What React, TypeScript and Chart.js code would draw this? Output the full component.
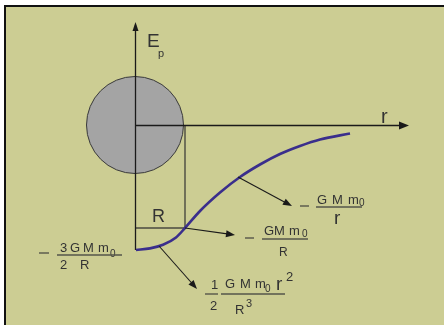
import React, { useEffect, useRef } from "react";
import { Chart, registerables } from "chart.js";
Chart.register(...registerables);

// Distance r in units of R, potential energy in the same drawing units (negative below the r axis)
const rValues = [0.02, 0.3, 0.56, 0.82, 1.0, 1.3, 1.7, 2.1, 2.5, 2.9, 3.3, 3.7, 4.3];
const epValues = [-2.5, -2.468, -2.396, -2.25, -2.06, -1.72, -1.35, -1.04, -0.79, -0.58, -0.42, -0.29, -0.17];

const X_MIN = -2.7;
const X_MAX = 6.18;
const Y_MIN = -4.0;
const Y_MAX = 2.5;

const BG = "#cccd93";
const CURVE = "#3a2e8c";
const INK = "#333333";

const diagramPlugin = {
  id: "diagram",
  beforeDatasetsDraw(chart: any) {
    const ctx = chart.ctx;
    const xs = chart.scales.x;
    const ys = chart.scales.y;
    const X = (v: number) => xs.getPixelForValue(v);
    const Y = (v: number) => ys.getPixelForValue(v);
    ctx.save();
    // frame + background
    ctx.fillStyle = "#ffffff";
    ctx.fillRect(0, 0, chart.width, chart.height);
    ctx.fillStyle = BG;
    ctx.fillRect(X(-2.6), Y(2.38), chart.width, chart.height);
    ctx.fillStyle = "#111111";
    ctx.fillRect(X(-2.6) - 1, Y(2.38) - 1, chart.width, 2);
    ctx.fillRect(X(-2.6) - 1, Y(2.38) - 1, 2, chart.height);

    // sphere
    ctx.beginPath();
    ctx.arc(X(0), Y(0), X(0.97) - X(0), 0, Math.PI * 2);
    ctx.fillStyle = "#a4a4a4";
    ctx.fill();
    ctx.lineWidth = 1;
    ctx.strokeStyle = "#3a3a3a";
    ctx.stroke();

    // R construction lines
    ctx.strokeStyle = "#4a4a40";
    ctx.lineWidth = 1.4;
    ctx.beginPath();
    ctx.moveTo(X(1), Y(0));
    ctx.lineTo(X(1), Y(-2.06));
    ctx.lineTo(X(0), Y(-2.06));
    ctx.stroke();

    // axes
    ctx.strokeStyle = "#1a1a1a";
    ctx.lineWidth = 1.3;
    ctx.beginPath();
    ctx.moveTo(X(0) + 0.5, Y(-2.5));
    ctx.lineTo(X(0) + 0.5, Y(2.0));
    ctx.moveTo(X(0), Y(0) + 0.5);
    ctx.lineTo(X(5.4), Y(0) + 0.5);
    ctx.stroke();
    ctx.fillStyle = "#1a1a1a";
    // vertical arrow
    ctx.beginPath();
    ctx.moveTo(X(0) + 0.5, Y(2.06));
    ctx.lineTo(X(0) + 0.5 - 3, Y(2.06) + 9);
    ctx.lineTo(X(0) + 0.5 + 3, Y(2.06) + 9);
    ctx.closePath();
    ctx.fill();
    // horizontal arrow
    ctx.beginPath();
    ctx.moveTo(X(5.48), Y(0) + 0.5);
    ctx.lineTo(X(5.48) - 10, Y(0) + 0.5 - 4);
    ctx.lineTo(X(5.48) - 10, Y(0) + 0.5 + 4);
    ctx.closePath();
    ctx.fill();
    ctx.restore();
  },
  afterDatasetsDraw(chart: any) {
    const ctx = chart.ctx;
    const xs = chart.scales.x;
    const ys = chart.scales.y;
    const X = (v: number) => xs.getPixelForValue(v);
    const Y = (v: number) => ys.getPixelForValue(v);
    ctx.save();
    const font = (s: number) => `${s}px "Liberation Sans", Arial, sans-serif`;
    const T = (t: string, x: number, y: number, s: number) => {
      ctx.font = font(s);
      ctx.fillStyle = INK;
      ctx.textAlign = "left";
      ctx.textBaseline = "alphabetic";
      ctx.fillText(t, X(x), Y(y));
    };
    const L = (x1: number, x2: number, y: number, w = 1.4) => {
      ctx.strokeStyle = "#55554a";
      ctx.lineWidth = w;
      ctx.beginPath();
      ctx.moveTo(X(x1), Y(y));
      ctx.lineTo(X(x2), Y(y));
      ctx.stroke();
    };
    const A = (x1: number, y1: number, x2: number, y2: number) => {
      const px1 = X(x1), py1 = Y(y1), px2 = X(x2), py2 = Y(y2);
      const ang = Math.atan2(py2 - py1, px2 - px1);
      ctx.strokeStyle = "#1a1a1a";
      ctx.fillStyle = "#1a1a1a";
      ctx.lineWidth = 1.1;
      ctx.beginPath();
      ctx.moveTo(px1, py1);
      ctx.lineTo(px2 - 6 * Math.cos(ang), py2 - 6 * Math.sin(ang));
      ctx.stroke();
      ctx.beginPath();
      ctx.moveTo(px2, py2);
      ctx.lineTo(px2 - 9 * Math.cos(ang) + 3.5 * Math.sin(ang), py2 - 9 * Math.sin(ang) - 3.5 * Math.cos(ang));
      ctx.lineTo(px2 - 9 * Math.cos(ang) - 3.5 * Math.sin(ang), py2 - 9 * Math.sin(ang) + 3.5 * Math.cos(ang));
      ctx.closePath();
      ctx.fill();
    };

    // axis labels
    T("E", 0.24, 1.56, 19);
    T("p", 0.46, 1.36, 11);
    T("r", 4.92, 0.04, 20);
    T("R", 0.34, -1.94, 18);

    // -3GMm0 / 2R
    L(-1.92, -1.72, -2.56);
    T("3", -1.5, -2.54, 13);
    T("G", -1.3, -2.54, 13);
    T("M", -1.04, -2.54, 13);
    T("m", -0.74, -2.54, 13);
    T("0", -0.5, -2.64, 10);
    L(-1.56, -0.26, -2.6);
    T("2", -1.5, -2.88, 13);
    T("R", -1.1, -2.88, 13);

    // -GMm0 / r
    L(3.3, 3.48, -1.62);
    T("G", 3.64, -1.58, 13);
    T("M", 3.94, -1.58, 13);
    T("m", 4.26, -1.58, 13);
    T("0", 4.48, -1.62, 10);
    L(3.62, 4.54, -1.64);
    T("r", 3.98, -1.98, 19);

    // -GMm0 / R
    L(2.2, 2.38, -2.26);
    T("GM", 2.58, -2.2, 13);
    T("m", 3.08, -2.2, 13);
    T("0", 3.34, -2.24, 10);
    L(2.54, 3.46, -2.28);
    T("R", 2.88, -2.62, 12);

    // 1/2 GMm0 r^2 / R^3
    T("1", 1.52, -3.28, 13);
    L(1.4, 1.66, -3.38);
    T("2", 1.5, -3.7, 13);
    T("G", 1.8, -3.26, 13);
    T("M", 2.1, -3.26, 13);
    T("m", 2.4, -3.26, 13);
    T("0", 2.6, -3.34, 10);
    T("r", 2.82, -3.3, 19);
    T("2", 3.02, -3.12, 13);
    L(1.72, 3.0, -3.38);
    T("R", 2.0, -3.78, 13);
    T("3", 2.22, -3.64, 11);

    // pointer arrows
    A(2.06, -1.04, 3.14, -1.62);
    A(1.0, -2.06, 2.0, -2.2);
    A(0.48, -2.42, 1.24, -3.28);
    ctx.restore();
  },
};

export default function App() {
  const ref = useRef<HTMLCanvasElement | null>(null);
  useEffect(() => {
    if (!ref.current) return;
    const chart = new Chart(ref.current, {
      type: "scatter",
      data: {
        datasets: [
          {
            data: rValues.map((r, i) => ({ x: r, y: epValues[i] })),
            showLine: true,
            borderColor: CURVE,
            borderWidth: 2.6,
            pointRadius: 0,
            cubicInterpolationMode: "monotone",
            fill: false,
          },
        ],
      },
      options: {
        responsive: false,
        animation: false,
        layout: { padding: 0 },
        plugins: { legend: { display: false }, tooltip: { enabled: false } },
        scales: {
          x: { type: "linear", min: X_MIN, max: X_MAX, display: false },
          y: { type: "linear", min: Y_MIN, max: Y_MAX, display: false },
        },
      },
      plugins: [diagramPlugin],
    });
    return () => chart.destroy();
  }, []);
  return (
    <div style={{ position: "absolute", left: 0, top: 0, width: 444, height: 325 }}>
      <canvas ref={ref} width={444} height={325} />
    </div>
  );
}
